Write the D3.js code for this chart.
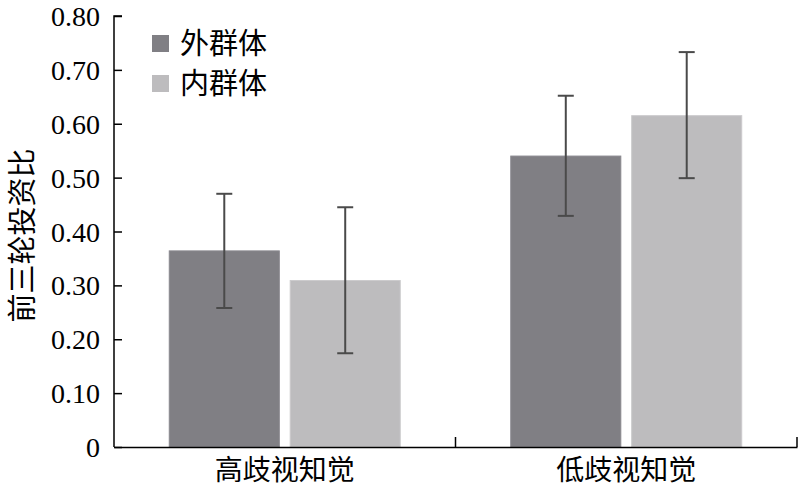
<!DOCTYPE html>
<html>
<head>
<meta charset="utf-8">
<script src="https://cdn.jsdelivr.net/npm/d3@7"></script>
<style>
  body { margin: 0; background: #fff; }
  .num { font-family: "Liberation Serif", "DejaVu Serif", serif; }
  .cjk { font-family: "Noto Sans CJK SC", sans-serif; }
</style>
</head>
<body>
<div id="chart"></div>
<script>
// categories and series
const categories = ["高歧视知觉", "低歧视知觉"]
const groups = ["外群体", "内群体"]
const means = [[0.364, 0.309], [0.540, 0.615]]
const lower = [[0.258, 0.174], [0.429, 0.499]]
const upper = [[0.470, 0.445], [0.652, 0.733]]
const yTicks = [0, 0.1, 0.2, 0.3, 0.4, 0.5, 0.6, 0.7, 0.8]
const colors = ["#807f84", "#bdbcbe"]

var width = 800
var height = 491
var margin = { top: 16, right: 3, bottom: 44, left: 114 }

const svg = d3.select("#chart").append("svg")
  .attr("width", width)
  .attr("height", height)

const x = d3.scaleBand()
  .domain(categories)
  .range([margin.left, width - margin.right])

const xs = d3.scaleBand()
  .domain(groups)
  .range([0, x.bandwidth()])
  .paddingInner(0.09)
  .paddingOuter(0.457)

const y = d3.scaleLinear()
  .domain([0, 0.8])
  .range([height - margin.bottom, margin.top])

// bars
const rows = []
categories.forEach((c, i) => groups.forEach((g, j) => {
  rows.push({ c, g, j, v: means[i][j], lo: lower[i][j], hi: upper[i][j] })
}))

svg.append("g").selectAll("rect")
  .data(rows)
  .join("rect")
  .attr("x", d => x(d.c) + xs(d.g))
  .attr("y", d => y(d.v))
  .attr("width", xs.bandwidth())
  .attr("height", d => y(0) - y(d.v))
  .attr("fill", d => colors[d.j])
  .attr("stroke", d => d3.color(colors[d.j]).brighter(0.2))
  .attr("stroke-width", 1)

// error bars
const eb = svg.append("g").attr("stroke", "#4a4a4a").attr("stroke-width", 2)
rows.forEach(d => {
  const cx = x(d.c) + xs(d.g) + xs.bandwidth() / 2
  eb.append("line").attr("x1", cx).attr("x2", cx).attr("y1", y(d.lo)).attr("y2", y(d.hi))
  eb.append("line").attr("x1", cx - 8).attr("x2", cx + 8).attr("y1", y(d.lo)).attr("y2", y(d.lo))
  eb.append("line").attr("x1", cx - 8).attr("x2", cx + 8).attr("y1", y(d.hi)).attr("y2", y(d.hi))
})

// y axis, ticks pointing inward
const yAxis = svg.append("g")
  .attr("transform", `translate(${margin.left},0)`)
  .call(d3.axisLeft(y).tickValues(yTicks).tickSize(-8).tickPadding(14)
    .tickFormat(d => d === 0 ? "0" : d3.format(".2f")(d)))
yAxis.attr("font-family", null)
yAxis.select(".domain").attr("d", `M8,${y(0.8)}H0V${y(0)}`).attr("stroke-width", 1.5)
yAxis.selectAll(".tick line").attr("stroke-width", 1.5)
yAxis.selectAll("text").attr("class", "num").style("font-size", "28px").attr("dy", "0.34em")

// x axis, with boundary ticks between categories
const xAxis = svg.append("g")
  .attr("transform", `translate(0,${y(0)})`)
  .call(d3.axisBottom(x).tickSize(0).tickPadding(13))
xAxis.attr("font-family", null)
xAxis.select(".domain").attr("stroke-width", 1.5)
xAxis.selectAll("text").attr("class", "cjk").style("font-size", "28px")
const bounds = [x(categories[1]), width - margin.right]
xAxis.selectAll(".bound").data(bounds).join("line")
  .attr("x1", d => d).attr("x2", d => d)
  .attr("y1", 0).attr("y2", -10)
  .attr("stroke", "#000").attr("stroke-width", 1.5)

// y title
svg.append("text")
  .attr("class", "cjk")
  .attr("transform", `translate(33,${(margin.top + height - margin.bottom) / 2 + 4}) rotate(-90)`)
  .attr("text-anchor", "middle")
  .style("font-size", "29px")
  .text("前三轮投资比")

// legend
const legend = svg.append("g").attr("transform", "translate(152,35)")
groups.forEach((g, j) => {
  const row = legend.append("g").attr("transform", `translate(0,${j * 40})`)
  row.append("rect").attr("width", 17).attr("height", 17).attr("fill", colors[j])
  row.append("text").attr("class", "cjk").attr("x", 28).attr("y", 9).attr("dy", "0.36em")
    .style("font-size", "29px").text(g)
})
</script>
</body>
</html>
